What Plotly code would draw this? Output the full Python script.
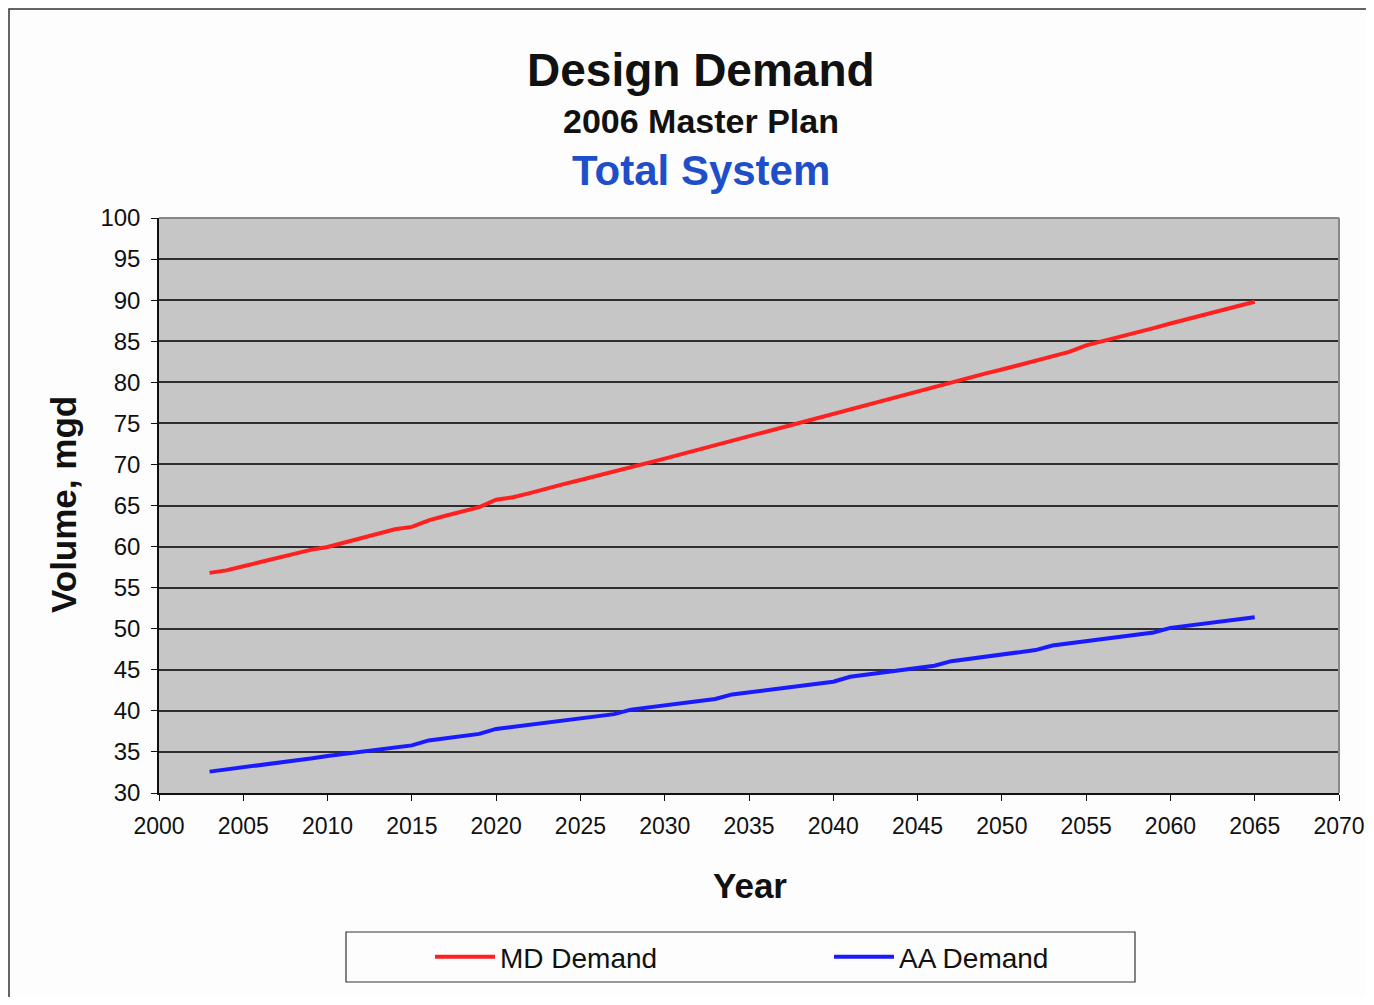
import plotly.graph_objects as go

years = list(range(2003, 2066))
md_demand = [56.8, 57.1, 57.6, 58.1, 58.6, 59.1, 59.6, 59.95, 60.5, 61.05,
             61.6, 62.1, 62.4, 63.2, 63.75, 64.3, 64.8, 65.7, 66.0, 66.5,
             67.1, 67.6, 68.1, 68.6, 69.1, 69.6, 70.15, 70.7, 71.25, 71.8,
             72.35, 72.9, 73.45, 74.0, 74.55, 75.1, 75.65, 76.2, 76.75, 77.3,
             77.85, 78.4, 78.95, 79.5, 80.05, 80.55, 81.05, 81.55, 82.1, 82.65,
             83.15, 83.7, 84.5, 85.0, 85.55, 86.05, 86.6, 87.15, 87.7, 88.2,
             88.75, 89.3, 89.8]
aa_demand = [32.6, 32.85, 33.1, 33.35, 33.6, 33.9, 34.2, 34.5, 34.75, 35.0,
             35.25, 35.55, 35.8, 36.4, 36.65, 36.9, 37.2, 37.8, 38.05, 38.3,
             38.55, 38.8, 39.05, 39.3, 39.6, 40.15, 40.4, 40.65, 40.9, 41.15,
             41.45, 42.0, 42.25, 42.5, 42.75, 43.0, 43.3, 43.55, 44.15, 44.4,
             44.65, 44.9, 45.2, 45.5, 46.05, 46.3, 46.55, 46.8, 47.1, 47.4,
             47.95, 48.2, 48.45, 48.7, 49.0, 49.25, 49.55, 50.1, 50.35, 50.6,
             50.9, 51.15, 51.4]

FONT = "Liberation Sans, Arial, sans-serif"
PW = 1180.0  # plot area width in px
PH = 575.0   # plot area height in px


def px_x(p):
    return (p - 159) / PW


def px_y(p):
    return (793 - p) / PH


fig = go.Figure()
fig.add_trace(go.Scatter(x=years, y=md_demand, mode="lines", name="MD Demand",
                         line=dict(color="#ff2020", width=4)))
fig.add_trace(go.Scatter(x=years, y=aa_demand, mode="lines", name="AA Demand",
                         line=dict(color="#1a1aff", width=4)))

fig.update_layout(
    width=1358, height=989,
    margin=dict(l=151, r=27, t=210, b=204, autoexpand=False),
    paper_bgcolor="#fdfdfd",
    plot_bgcolor="#c6c6c6",
    font=dict(family=FONT, color="#111111"),
    showlegend=True,
    legend=dict(orientation="h", x=px_x(430), y=px_y(957), xanchor="left", yanchor="middle",
                font=dict(size=28, family=FONT, color="#111111"),
                bgcolor="rgba(0,0,0,0)", entrywidth=324, entrywidthmode="pixels",
                itemwidth=60),
    xaxis=dict(range=[2000, 2070], tickmode="linear", tick0=2000, dtick=5,
               showgrid=False, zeroline=False, showline=True, linecolor="#111111",
               linewidth=1.5, ticks="outside", ticklen=6, tickcolor="#111111",
               ticklabelstandoff=6, ticklabeloverflow="allow", automargin=False,
               tickfont=dict(size=23, family=FONT, color="#111111")),
    yaxis=dict(range=[30, 100], tickmode="linear", tick0=30, dtick=5,
               showgrid=True, gridcolor="#2e2e2e", gridwidth=1.5, zeroline=False,
               showline=True, linecolor="#111111", linewidth=1.5,
               ticks="outside", ticklen=6, tickcolor="#111111",
               ticklabelstandoff=6, automargin=False,
               tickfont=dict(size=24, family=FONT, color="#111111")),
    annotations=[
        dict(text="<b>Design Demand</b>", x=px_x(701), y=px_y(70), xref="paper", yref="paper",
             xanchor="center", yanchor="middle", showarrow=False,
             font=dict(size=46, family=FONT, color="#111111")),
        dict(text="<b>2006 Master Plan</b>", x=px_x(701), y=px_y(121), xref="paper", yref="paper",
             xanchor="center", yanchor="middle", showarrow=False,
             font=dict(size=34, family=FONT, color="#111111")),
        dict(text="<b>Total System</b>", x=px_x(701), y=px_y(170), xref="paper", yref="paper",
             xanchor="center", yanchor="middle", showarrow=False,
             font=dict(size=42, family=FONT, color="#1f4fc8")),
        dict(text="<b>Year</b>", x=px_x(750), y=px_y(885), xref="paper", yref="paper",
             xanchor="center", yanchor="middle", showarrow=False,
             font=dict(size=35, family=FONT, color="#111111")),
        dict(text="<b>Volume, mgd</b>", x=px_x(63), y=px_y(505), xref="paper", yref="paper",
             xanchor="center", yanchor="middle", showarrow=False, textangle=-90,
             font=dict(size=35, family=FONT, color="#111111")),
    ],
    shapes=[
        # outer chart border
        dict(type="rect", xref="paper", yref="paper", x0=px_x(9), x1=1.06, y0=-0.45, y1=px_y(9),
             line=dict(color="#333333", width=1.5), layer="below"),
        # plot area top/right border
        dict(type="line", xref="paper", yref="paper", x0=0, x1=1, y0=1, y1=1,
             line=dict(color="#888888", width=2)),
        dict(type="line", xref="paper", yref="paper", x0=1, x1=1, y0=0, y1=1,
             line=dict(color="#888888", width=2)),
        # legend box
        dict(type="rect", xref="paper", yref="paper",
             x0=px_x(346), x1=px_x(1135), y0=px_y(982), y1=px_y(932),
             line=dict(color="#333333", width=1.2), fillcolor="rgba(0,0,0,0)"),
    ],
)

fig.write_html("out.html")
